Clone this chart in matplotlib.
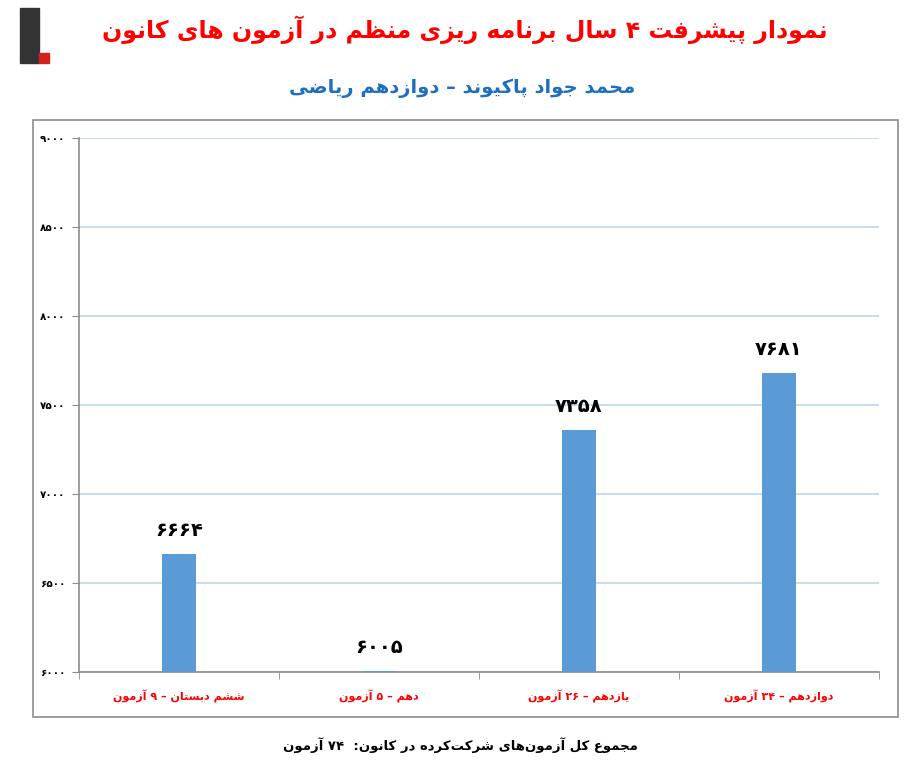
import re
import matplotlib
matplotlib.use("Agg")
import matplotlib.pyplot as plt
from matplotlib.patches import Rectangle

# ---- data ----
categories = ["ششم دبستان – ۹ آزمون", "دهم – ۵ آزمون", "یازدهم – ۲۶ آزمون", "دوازدهم – ۳۴ آزمون"]
scores = [6664, 6005, 7358, 7681]
y_ticks = [6000, 6500, 7000, 7500, 8000, 8500, 9000]
title = "نمودار پیشرفت ۴ سال برنامه ریزی منظم در آزمون های کانون"
subtitle = "محمد جواد پاکیوند – دوازدهم ریاضی"
footer = "مجموع کل آزمون\u200cهای شرکت\u200cکرده در کانون:  ۷۴ آزمون"

# ---- tiny arabic/persian shaper (isolated, final, initial, medial) ----
FORMS = {
    'ا': ('\uFE8D', '\uFE8E'), 'آ': ('\uFE81', '\uFE82'),
    'د': ('\uFEA9', '\uFEAA'), 'ر': ('\uFEAD', '\uFEAE'),
    'ز': ('\uFEAF', '\uFEB0'), 'و': ('\uFEED', '\uFEEE'),
    'ب': ('\uFE8F', '\uFE90', '\uFE91', '\uFE92'),
    'پ': ('\uFB56', '\uFB57', '\uFB58', '\uFB59'),
    'ت': ('\uFE95', '\uFE96', '\uFE97', '\uFE98'),
    'ج': ('\uFE9D', '\uFE9E', '\uFE9F', '\uFEA0'),
    'ح': ('\uFEA1', '\uFEA2', '\uFEA3', '\uFEA4'),
    'س': ('\uFEB1', '\uFEB2', '\uFEB3', '\uFEB4'),
    'ش': ('\uFEB5', '\uFEB6', '\uFEB7', '\uFEB8'),
    'ض': ('\uFEBD', '\uFEBE', '\uFEBF', '\uFEC0'),
    'ظ': ('\uFEC5', '\uFEC6', '\uFEC7', '\uFEC8'),
    'ع': ('\uFEC9', '\uFECA', '\uFECB', '\uFECC'),
    'ف': ('\uFED1', '\uFED2', '\uFED3', '\uFED4'),
    'ک': ('\uFB8E', '\uFB8F', '\uFB90', '\uFB91'),
    'ل': ('\uFEDD', '\uFEDE', '\uFEDF', '\uFEE0'),
    'م': ('\uFEE1', '\uFEE2', '\uFEE3', '\uFEE4'),
    'ن': ('\uFEE5', '\uFEE6', '\uFEE7', '\uFEE8'),
    'ه': ('\uFEE9', '\uFEEA', '\uFEEB', '\uFEEC'),
    'ی': ('\uFBFC', '\uFBFD', '\uFBFE', '\uFBFF'),
}


def fa(s):
    out = []
    for i, c in enumerate(s):
        if c not in FORMS:
            if c != '\u200c':
                out.append(c)
            continue
        f = FORMS[c]
        prev = s[i - 1] if i > 0 else ''
        nxt = s[i + 1] if i + 1 < len(s) else ''
        jp = prev in FORMS and len(FORMS[prev]) == 4
        jn = len(f) == 4 and nxt in FORMS
        if jp and jn:
            out.append(f[3])
        elif jp:
            out.append(f[1])
        elif jn:
            out.append(f[2])
        else:
            out.append(f[0])
    tokens = re.findall(r'[0-9\u06F0-\u06F9]+|.', ''.join(out))
    return ''.join(reversed(tokens))


def fa_num(n):
    return str(n).translate(str.maketrans("0123456789", "۰۱۲۳۴۵۶۷۸۹"))


plt.rcParams['font.family'] = ['DejaVu Sans']

fig = plt.figure(figsize=(9.2, 7.71), dpi=100)

# outer chart frame
fig.patches.append(Rectangle((0.036, 0.070), 0.940, 0.774, transform=fig.transFigure,
                             fill=False, edgecolor='#8c8c8c', linewidth=1.2))

ax = fig.add_axes([0.0859, 0.1284, 0.8695, 0.6926])
x = list(range(len(categories)))
ax.bar(x, scores, width=0.17, color='#5B9BD5', zorder=3)

for xi, v in zip(x, scores):
    ax.annotate(fa_num(v), (xi, v), xytext=(0, 10), textcoords='offset points',
                ha='center', va='bottom', fontsize=14, fontweight='bold', color='black')

ax.set_ylim(6000, 9000)
ax.set_xlim(-0.5, len(categories) - 0.5)
ax.set_yticks(y_ticks)
ax.set_yticklabels([fa_num(t) for t in y_ticks], fontsize=7.5, fontweight='bold')
ax.yaxis.grid(True, color='#BDD7EE', linewidth=1.2, zorder=0)
ax.set_axisbelow(True)

ax.set_xticks(x)
ax.set_xticklabels([fa(c) for c in categories], fontsize=8, fontweight='bold', color='#FF0000')
ax.set_xticks([i - 0.5 for i in range(len(categories) + 1)], minor=True)
ax.tick_params(axis='x', which='major', length=0, pad=13)
ax.tick_params(axis='x', which='minor', length=5, color='#8c8c8c')
ax.tick_params(axis='y', length=5, color='#8c8c8c', pad=5)

for side in ['top', 'right']:
    ax.spines[side].set_visible(False)
for side in ['left', 'bottom']:
    ax.spines[side].set_color('#8c8c8c')
    ax.spines[side].set_linewidth(1.2)

fig.text(0.505, 0.961, fa(title), ha='center', va='center', fontsize=17,
         fontweight='bold', color='#FF0000')
fig.text(0.502, 0.886, fa(subtitle), ha='center', va='center', fontsize=14,
         fontweight='bold', color='#1F6FC0')
fig.text(0.50, 0.033, fa(footer), ha='center', va='center', fontsize=9.5,
         fontweight='bold', color='black')

# small logo placeholder
fig.patches.append(Rectangle((0.022, 0.918), 0.020, 0.072, transform=fig.transFigure,
                             color='#333333'))
fig.patches.append(Rectangle((0.042, 0.918), 0.011, 0.013, transform=fig.transFigure,
                             color='#d62020'))

fig.savefig('out.png', dpi=100)
